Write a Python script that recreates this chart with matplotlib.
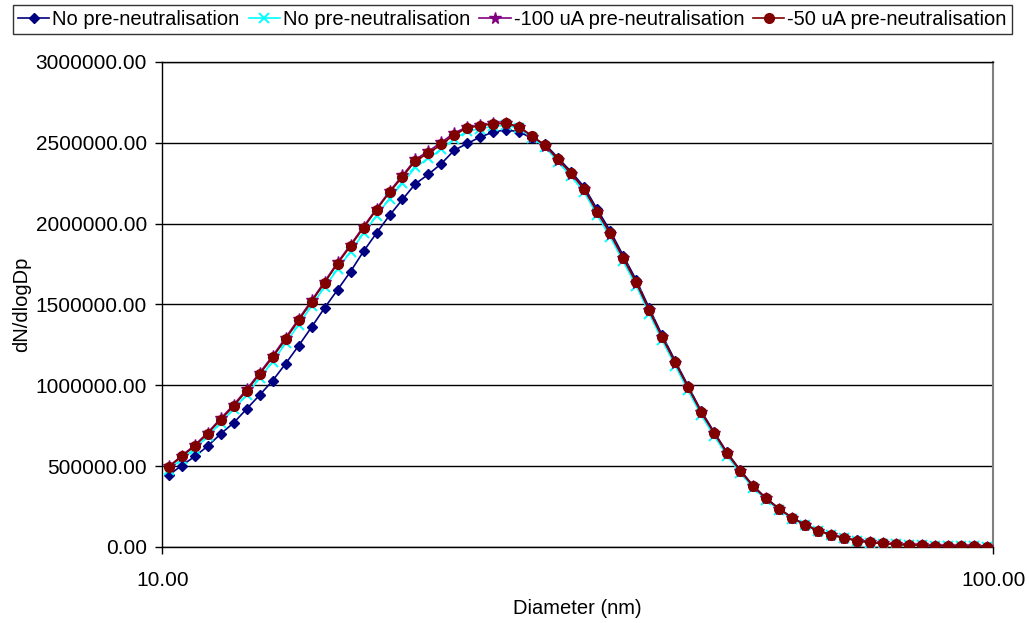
import numpy as np
import matplotlib
matplotlib.use("Agg")
import matplotlib.pyplot as plt
from matplotlib.ticker import FixedLocator, FuncFormatter, NullLocator

plt.rcParams['font.family'] = ['Liberation Sans', 'DejaVu Sans']

# SMPS channel midpoints (64 per decade)
diameter = [10 ** (1 + (k + 0.5) / 64) for k in range(64)]

red_50uA = [494e3, 560e3, 624e3, 702e3, 788e3, 872e3, 967e3, 1070e3, 1173e3, 1286e3,
            1401e3, 1517e3, 1634e3, 1753e3, 1862e3, 1975e3, 2086e3, 2193e3, 2290e3, 2389e3,
            2436e3, 2490e3, 2551e3, 2593e3, 2605e3, 2619e3, 2621e3, 2599e3, 2541e3, 2484e3,
            2397e3, 2311e3, 2214e3, 2074e3, 1940e3, 1788e3, 1638e3, 1465e3, 1298e3, 1142e3,
            988e3, 835e3, 706e3, 580e3, 473e3, 377e3, 300e3, 237e3, 181e3, 138e3,
            101e3, 76e3, 56e3, 40e3, 28e3, 22e3, 17e3, 13e3, 10e3, 8e3,
            7e3, 5e3, 4e3, 3e3]

purple_100uA = [498e3, 565e3, 630e3, 708e3, 795e3, 880e3, 975e3, 1078e3, 1182e3, 1295e3,
                1410e3, 1525e3, 1642e3, 1760e3, 1870e3, 1982e3, 2093e3, 2200e3, 2298e3, 2398e3,
                2448e3, 2503e3, 2562e3, 2598e3, 2608e3, 2620e3, 2620e3, 2597e3, 2538e3, 2482e3,
                2395e3, 2309e3, 2212e3, 2072e3, 1938e3, 1786e3, 1636e3, 1463e3, 1297e3, 1141e3,
                987e3, 834e3, 705e3, 579e3, 472e3, 376e3, 300e3, 236e3, 181e3, 138e3,
                101e3, 76e3, 56e3, 40e3, 28e3, 22e3, 17e3, 13e3, 10e3, 8e3,
                7e3, 5e3, 4e3, 3e3]

cyan_none = [478e3, 544e3, 607e3, 684e3, 770e3, 852e3, 943e3, 1045e3, 1147e3, 1260e3,
             1375e3, 1492e3, 1608e3, 1718e3, 1827e3, 1940e3, 2050e3, 2155e3, 2250e3, 2350e3,
             2405e3, 2460e3, 2525e3, 2572e3, 2588e3, 2602e3, 2608e3, 2590e3, 2532e3, 2472e3,
             2380e3, 2292e3, 2194e3, 2052e3, 1918e3, 1766e3, 1616e3, 1444e3, 1278e3, 1122e3,
             968e3, 816e3, 688e3, 564e3, 460e3, 367e3, 292e3, 230e3, 176e3, 134e3,
             98e3, 74e3, 54e3, 39e3, 27e3, 21e3, 16e3, 12e3, 10e3, 8e3,
             6e3, 5e3, 4e3, 3e3]

blue_none = [445e3, 504e3, 560e3, 624e3, 700e3, 768e3, 854e3, 940e3, 1029e3, 1134e3,
             1245e3, 1360e3, 1479e3, 1591e3, 1704e3, 1829e3, 1942e3, 2051e3, 2150e3, 2247e3,
             2305e3, 2372e3, 2455e3, 2496e3, 2537e3, 2566e3, 2582e3, 2566e3, 2529e3, 2490e3,
             2405e3, 2320e3, 2226e3, 2088e3, 1955e3, 1802e3, 1652e3, 1478e3, 1310e3, 1152e3,
             996e3, 842e3, 711e3, 585e3, 477e3, 380e3, 302e3, 238e3, 182e3, 139e3,
             102e3, 77e3, 57e3, 41e3, 29e3, 22e3, 17e3, 13e3, 10e3, 8e3,
             7e3, 5e3, 4e3, 3e3]

labels = ["No pre-neutralisation", "No pre-neutralisation",
          "-100 uA pre-neutralisation", "-50 uA pre-neutralisation"]

fig = plt.figure(figsize=(10.29, 6.23), dpi=100)
ax = fig.add_axes([0.1577, 0.122, 0.8076, 0.7785])

ax.plot(diameter, blue_none, color='#000080', lw=1.2, marker='D', ms=5.5,
        mfc='#000080', mec='#000080', label=labels[0], zorder=3)
ax.plot(diameter, cyan_none, color='#00FFFF', lw=1.2, marker='x', ms=7, mew=1.4,
        mec='#00FFFF', label=labels[1], zorder=4)
ax.plot(diameter, purple_100uA, color='#800080', lw=1.2, marker='*', ms=8.5,
        mfc='#800080', mec='#800080', label=labels[2], zorder=5)
ax.plot(diameter, red_50uA, color='#800000', lw=1.2, marker='o', ms=7,
        mfc='#800000', mec='#800000', label=labels[3], zorder=6)

ax.set_xscale('log')
ax.set_xlim(10, 100)
ax.set_ylim(0, 3000000)
ax.xaxis.set_major_locator(FixedLocator([10, 100]))
ax.xaxis.set_minor_locator(NullLocator())
ax.xaxis.set_major_formatter(FuncFormatter(lambda v, p: f"{v:.2f}"))
ax.yaxis.set_major_locator(FixedLocator(np.arange(0, 3000001, 500000)))
ax.yaxis.set_major_formatter(FuncFormatter(lambda v, p: f"{v:.2f}"))
ax.yaxis.grid(True, color='black', lw=1.0)
ax.set_axisbelow(True)
ax.tick_params(axis='both', direction='out', length=5, width=1, labelsize=15, colors='black')
ax.tick_params(axis='x', pad=12)
ax.tick_params(axis='y', pad=6)

for s in ['left', 'bottom', 'top']:
    ax.spines[s].set_color('black')
    ax.spines[s].set_linewidth(1.0)
ax.spines['right'].set_color('#808080')
ax.spines['right'].set_linewidth(1.5)

ax.set_xlabel("Diameter (nm)", fontsize=14.5, labelpad=7)
ax.set_ylabel("dN/dlogDp", fontsize=14.5, labelpad=3)

leg = fig.legend(loc='upper center', bbox_to_anchor=(0.498, 0.995), ncol=4,
                 fontsize=14.5, frameon=True, fancybox=False, edgecolor='black',
                 handlelength=1.55, handletextpad=0.15, columnspacing=0.45,
                 borderpad=0.25, borderaxespad=0.1)
leg.get_frame().set_linewidth(1.0)

fig.savefig("out.png", dpi=100)
